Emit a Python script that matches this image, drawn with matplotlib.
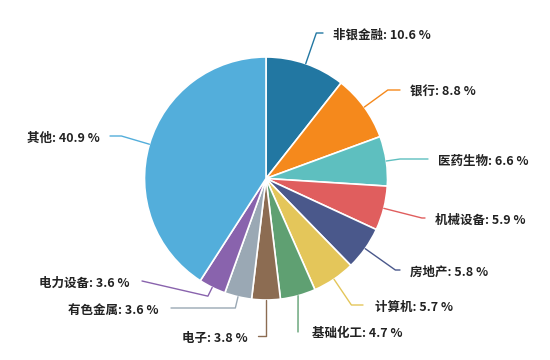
import numpy as np
import matplotlib
matplotlib.use("Agg")
import matplotlib.pyplot as plt

plt.rcParams['font.family'] = ['Noto Sans CJK SC', 'DejaVu Sans']

# ---- data ----
categories = ["非银金融", "银行", "医药生物", "机械设备", "房地产", "计算机",
              "基础化工", "电子", "有色金属", "电力设备", "其他"]
values = [10.6, 8.8, 6.6, 5.9, 5.8, 5.7, 4.7, 3.8, 3.6, 3.6, 40.9]

# ---- styles ----
colors = ["#2277a2", "#f5891c", "#5ebfbf", "#e05e5e", "#4a588b", "#e4c65a",
          "#5fa072", "#8c6c52", "#9aa8b4", "#8963ad", "#53aedb"]

# label layout (pixel positions of the text anchor, side)
label_px = [(333, 35, 'r'), (410, 92, 'r'), (438, 161, 'r'), (435, 220, 'r'),
            (410, 272, 'r'), (375, 307, 'r'), (312, 334, 'r'), (248, 338, 'l'),
            (159, 310, 'l'), (130, 283, 'l'), (100, 138, 'l')]
gaps = [10, 10, 10, 10, 10, 12, 14, 10, 12, 12, 10]

W, H = 550, 360
CX, CY, R = 266, 178.5, 121.5


def to_data(px, py):
    return (px - CX) / R, (CY - py) / R


fig = plt.figure(figsize=(W / 100, H / 100), dpi=100)
ax = fig.add_axes([0, 0, 1, 1])
wedges, _ = ax.pie(values, colors=colors, startangle=90, counterclock=False,
                   radius=1.0, center=(0, 0),
                   wedgeprops=dict(edgecolor='white', linewidth=1.2))

total = sum(values)
cum = 0.0
for i, (cat, v) in enumerate(zip(categories, values)):
    mid = np.deg2rad(90 - (cum + v / 2) / total * 360)
    cum += v
    tx, ty, side = label_px[i]
    ly = ty - 2
    gap = gaps[i]
    endx = tx - gap if side == 'r' else tx + gap
    ex, ey = np.cos(mid), np.sin(mid)
    # elbow: intersection of mid ray with line y
    dly = (CY - ly) / R
    if abs(np.sin(mid)) > 1e-6 and dly / np.sin(mid) >= 1.08:
        re = dly / np.sin(mid)
    else:
        re = 1.08
    bx, by = re * np.cos(mid), re * np.sin(mid)
    enx, eny = to_data(endx, ly)
    if (side == 'r' and bx > enx) or (side == 'l' and bx < enx):
        pts = [(ex, ey), (enx, eny)]
    else:
        pts = [(ex, ey), (bx, by), (enx, eny)]
    xs, ys = zip(*pts)
    ax.plot(xs, ys, color=colors[i], lw=1.0, solid_capstyle='round')
    dx, dy = to_data(tx, ty)
    ax.text(dx, dy, f"{cat}: {v} %", ha='left' if side == 'r' else 'right',
            va='center', fontsize=9, color='#222222', fontweight='bold')

ax.set_xlim(-CX / R, (W - CX) / R)
ax.set_ylim(-(H - CY) / R, CY / R)
ax.set_aspect('equal', adjustable='box')
ax.axis('off')
fig.savefig("out.png", dpi=100)
